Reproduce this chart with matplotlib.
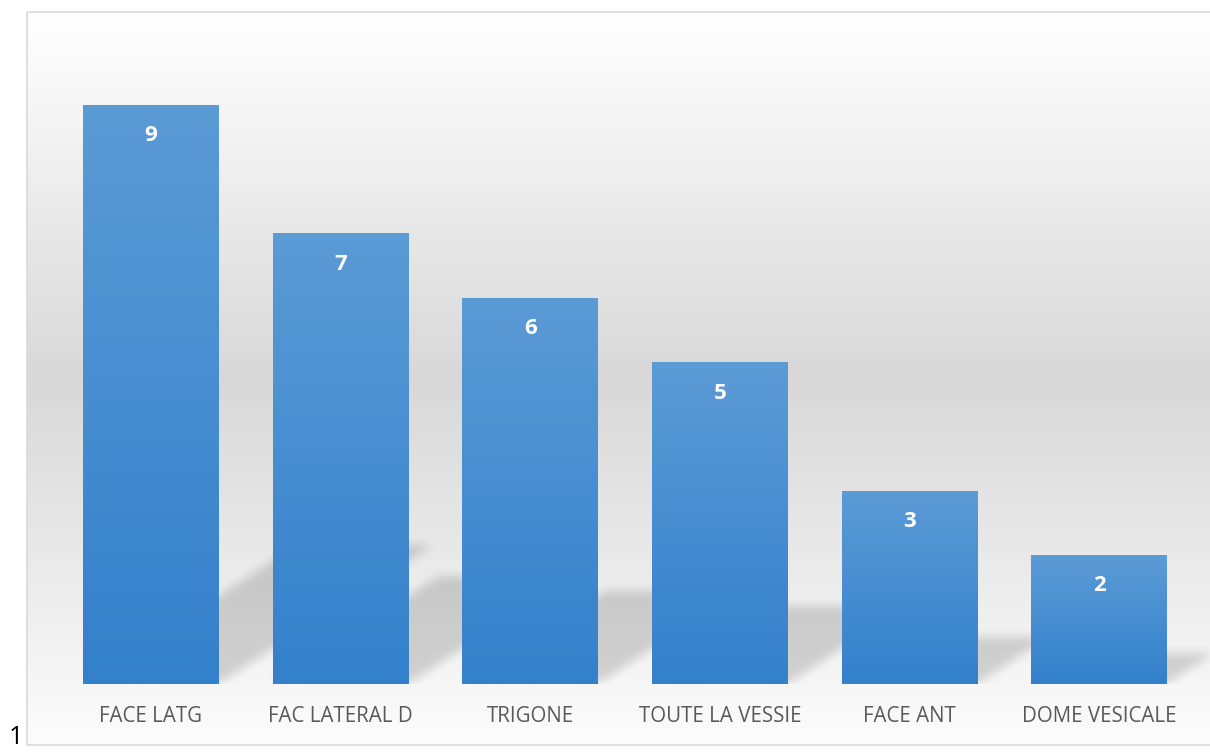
import numpy as np
import matplotlib
matplotlib.use('Agg')
import matplotlib.pyplot as plt
from matplotlib.patches import Rectangle
from matplotlib.colors import to_rgb

# sièges des lésions et effectifs
categories = ['FACE LATG', 'FAC LATERAL D', 'TRIGONE', 'TOUTE LA VESSIE',
              'FACE ANT', 'DOME VESICALE']
values = [9, 7, 6, 5, 3, 2]

W, H = 1210, 753
fig = plt.figure(figsize=(W / 100, H / 100), dpi=100)

# fond : dégradé vertical blanc -> gris -> blanc dans le cadre du graphique
bg = fig.add_axes([0, 0, 1, 1])
bg.set_xlim(0, W)
bg.set_ylim(H, 0)
bg.axis('off')
t = np.linspace(0, 1, 400)
shade = np.interp(t, [0, 0.06, 0.5, 0.9, 1], [1.0, 0.985, 0.847, 0.96, 0.99])
grad = np.dstack([shade, shade, shade])[0][:, None, :]
bg.imshow(grad, extent=(27, W + 5, 745, 12), aspect='auto', zorder=0)
bg.add_patch(Rectangle((27, 12), W, 733, fill=False, edgecolor='#d9d9d9',
                       linewidth=1.2, zorder=1))
bg.text(9, 738, '1', fontsize=18, color='black', family='Open Sans',
        va='center', ha='left')

# zone de tracé
x_left, x_right, y_base, y_top = 56, 1194, 684, 41
ax = fig.add_axes([x_left / W, (H - y_base) / H,
                   (x_right - x_left) / W, (y_base - y_top) / H])
ax.patch.set_alpha(0)
ax.set_xlim(-0.5, len(values) - 0.5)
ax.set_ylim(0, 10)
for s in ax.spines.values():
    s.set_visible(False)
ax.set_yticks([])
ax.set_xticks(range(len(categories)))
ax.set_xticklabels(categories, fontsize=14.8, color='#595959',
                   family='Open Sans')
ax.tick_params(axis='x', length=0, pad=15.5)

bar_w = 0.717

# ombres portées : parallélogrammes inclinés puis flous
sx, sy = 0.1255, 0.24
ext = (-0.5, 6.0, 0, 10)
nx, ny = 1232, 643
gx = np.linspace(ext[0], ext[1], nx)
gy = np.linspace(ext[2], ext[3], ny)
X, Y = np.meshgrid(gx, gy)
mask = np.zeros((ny, nx))
for i, v in enumerate(values):
    x0, x1 = i - bar_w / 2, i + bar_w / 2
    dy, dx = sy * v, sx * v
    f = Y / dy
    inside = (Y <= dy) & (X >= x0 + f * dx) & (X <= x1 + f * dx)
    mask[inside] = 1.0

k = np.ones(11) / 11
for _ in range(2):
    mask = np.apply_along_axis(lambda m: np.convolve(m, k, mode='same'), 0, mask)
    mask = np.apply_along_axis(lambda m: np.convolve(m, k, mode='same'), 1, mask)

shadow = np.zeros((ny, nx, 4))
shadow[..., 3] = mask * 0.15
ax.imshow(shadow, extent=ext, origin='lower', aspect='auto', zorder=1,
          interpolation='bilinear', clip_on=False)

# barres en dégradé bleu
top_c = np.array(to_rgb('#5b9bd6'))
bot_c = np.array(to_rgb('#3380cb'))
tt = np.linspace(0, 1, 200)[:, None]
bar_grad = (bot_c[None, :] * (1 - tt) + top_c[None, :] * tt)[:, None, :]
for i, v in enumerate(values):
    ax.imshow(bar_grad, extent=(i - bar_w / 2, i + bar_w / 2, 0, v),
              origin='lower', aspect='auto', zorder=2)
    ax.annotate(str(v), (i, v), xytext=(0, -22), textcoords='offset points',
                ha='center', va='center', color='white', fontsize=16,
                fontweight='bold', family='Open Sans', zorder=3)

ax.set_xlim(-0.5, len(values) - 0.5)
ax.set_ylim(0, 10)

fig.savefig('out.png', dpi=100)
